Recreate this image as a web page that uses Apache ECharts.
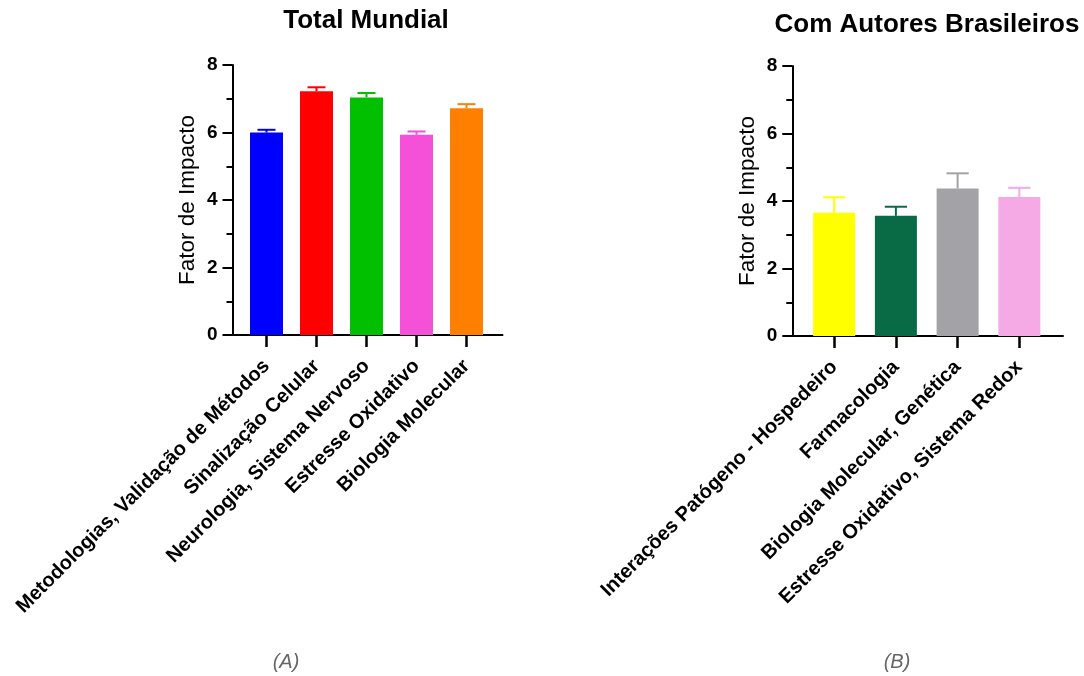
<!DOCTYPE html>
<html>
<head>
<meta charset="utf-8">
<script src="https://cdn.jsdelivr.net/npm/echarts@6/dist/echarts.min.js"></script>
<style>
html,body{margin:0;padding:0;background:#fff;}
#chart{width:1084px;height:676px;}
</style>
</head>
<body>
<div id="chart"></div>
<script>
// ---- Data ----
const catsA = ['Metodologias, Validação de Métodos', 'Sinalização Celular', 'Neurologia, Sistema Nervoso', 'Estresse Oxidativo', 'Biologia Molecular'];
const valsA = [6.0, 7.22, 7.04, 5.93, 6.72];
const errA = [0.08, 0.12, 0.13, 0.10, 0.12];
const colorsA = ['#0000FF', '#FF0000', '#00C000', '#F550D8', '#FF8000'];

const catsB = ['Interações Patógeno - Hospedeiro', 'Farmacologia', 'Biologia Molecular, Genética', 'Estresse Oxidativo, Sistema Redox'];
const valsB = [3.65, 3.56, 4.37, 4.12];
const errB = [0.46, 0.27, 0.45, 0.27];
const colorsB = ['#FFFF00', '#086B45', '#A3A2A6', '#F5AAE6'];

const yTicks = [0, 2, 4, 6, 8];
const titles = ['Total Mundial', 'Com Autores Brasileiros'];
const captions = ['(A)', '(B)'];
const yName = 'Fator de Impacto';

// ---- Chart ----
const FONT = '"Liberation Sans", Arial, sans-serif';
const chart = echarts.init(document.getElementById('chart'));

function yAxisCfg(gridIndex, offset) {
  return {
    type: 'value', gridIndex: gridIndex, min: yTicks[0], max: yTicks[yTicks.length - 1], interval: 2,
    offset: offset,
    name: yName, nameLocation: 'middle', nameGap: 33,
    nameTextStyle: { fontFamily: FONT, fontSize: 22.5, color: '#000' },
    axisLine: { show: true, lineStyle: { color: '#000', width: 2 } },
    axisTick: { show: true, length: 10, lineStyle: { color: '#000', width: 2 } },
    minorTick: { show: true, splitNumber: 2, length: 6, lineStyle: { color: '#000', width: 2 } },
    axisLabel: { fontFamily: FONT, fontSize: 19, fontWeight: 'bold', color: '#000', margin: 15 },
    splitLine: { show: false }
  };
}
function xAxisCfg(gridIndex, cats) {
  return {
    type: 'category', gridIndex: gridIndex, data: cats,
    axisLine: { show: false },
    axisTick: { show: true, alignWithLabel: true, length: 12, lineStyle: { color: '#000', width: 2.5 } },
    axisLabel: { rotate: 45, interval: 0, fontFamily: FONT, fontSize: 20, fontWeight: 'bold', color: '#000', margin: 28 },
    splitLine: { show: false }
  };
}
function lineXAxis(gridIndex) {
  return {
    type: 'value', gridIndex: gridIndex, min: 0, max: 1,
    axisLine: { show: true, onZero: false, lineStyle: { color: '#000', width: 2 } },
    axisTick: { show: false }, axisLabel: { show: false }, splitLine: { show: false }
  };
}
function hiddenY(gridIndex) {
  return { type: 'value', gridIndex: gridIndex, show: false, min: 0, max: 1 };
}
function barSeries(xi, vals, colors, width) {
  return {
    type: 'bar', xAxisIndex: xi, yAxisIndex: xi, barWidth: width,
    data: vals.map((v, i) => ({ value: v, itemStyle: { color: colors[i] } })),
    z: 2
  };
}
function errSeries(xi, vals, errs, colors, capFrac) {
  return {
    type: 'custom', xAxisIndex: xi, yAxisIndex: xi, z: 3,
    encode: { x: 0, y: 1 },
    data: vals.map((v, i) => [i, v, errs[i]]),
    renderItem: function (params, api) {
      const i = api.value(0), v = api.value(1), e = api.value(2);
      const p0 = api.coord([i, v]);
      const p1 = api.coord([i, v + e]);
      const hw = api.size([1, 0])[0] * capFrac;
      const c = colors[params.dataIndex];
      return {
        type: 'group', children: [
          { type: 'line', shape: { x1: p0[0], y1: p0[1], x2: p1[0], y2: p1[1] }, style: { stroke: c, lineWidth: 2 } },
          { type: 'line', shape: { x1: p1[0] - hw, y1: p1[1], x2: p1[0] + hw, y2: p1[1] }, style: { stroke: c, lineWidth: 2 } }
        ]
      };
    }
  };
}

const titleStyle = { fontFamily: FONT, fontSize: 26, fontWeight: 'bold', color: '#000' };
const capStyle = { fontFamily: FONT, fontSize: 20, fontStyle: 'italic', fontWeight: 'normal', color: '#666' };
const option = {
  backgroundColor: '#fff',
  animation: false,
  title: [
    { text: titles[0], left: 366, top: 8, padding: 0, textAlign: 'center', textStyle: titleStyle },
    { text: titles[1], left: 927, top: 12, padding: 0, textAlign: 'center', textStyle: titleStyle },
    { text: captions[0], left: 286, top: 652, padding: 0, textAlign: 'center', textStyle: capStyle },
    { text: captions[1], left: 897, top: 652, padding: 0, textAlign: 'center', textStyle: capStyle }
  ],
  grid: [
    { left: 241.5, top: 65, width: 250, height: 270 },
    { left: 232.5, top: 65, width: 270, height: 270 },
    { left: 803.3, top: 66, width: 246.9, height: 270 },
    { left: 792.3, top: 66, width: 270.7, height: 270 }
  ],
  xAxis: [xAxisCfg(0, catsA), lineXAxis(1), xAxisCfg(2, catsB), lineXAxis(3)],
  yAxis: [yAxisCfg(0, 9), hiddenY(1), yAxisCfg(2, 11), hiddenY(3)],
  series: [
    barSeries(0, valsA, colorsA, 33),
    errSeries(0, valsA, errA, colorsA, 0.18),
    barSeries(2, valsB, colorsB, 42),
    errSeries(2, valsB, errB, colorsB, 0.18)
  ]
};
chart.setOption(option);
</script>
</body>
</html>
